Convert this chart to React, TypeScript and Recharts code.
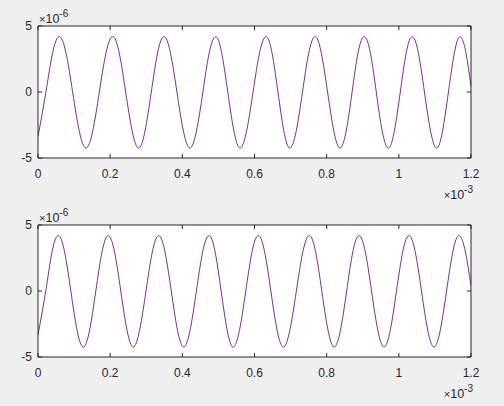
import React from "react";
import { LineChart, Line, XAxis, YAxis } from "recharts";

const xTicks = [0, 0.2, 0.4, 0.6, 0.8, 1, 1.2];
const xTickLabels = ["0", "0.2", "0.4", "0.6", "0.8", "1", "1.2"];
const yTicks = [-5, 0, 5];
const yTickLabels = ["-5", "0", "5"];
const xExponent = "-3";
const yExponent = "-6";

// top subplot (t in 1e-3, v in 1e-6)
const topT = [0, 0.022, 0.0405, 0.059, 0.0775, 0.096, 0.1145, 0.133, 0.1515, 0.17, 0.1885, 0.207, 0.225, 0.243, 0.261, 0.279, 0.2965, 0.314, 0.3315, 0.349, 0.367, 0.385, 0.403, 0.421, 0.439, 0.457, 0.4745, 0.4925, 0.509, 0.526, 0.543, 0.56, 0.578, 0.596, 0.614, 0.632, 0.6485, 0.665, 0.6815, 0.698, 0.7155, 0.733, 0.7505, 0.768, 0.785, 0.8025, 0.82, 0.837, 0.854, 0.8705, 0.887, 0.904, 0.921, 0.9375, 0.954, 0.971, 0.9875, 1.004, 1.0205, 1.037, 1.054, 1.071, 1.088, 1.105, 1.121, 1.1375, 1.154, 1.17, 1.186, 1.2];
const topV = [-3.39, 0, 2.97, 4.2,
  2.97, 0, -2.97, -4.25, -2.97, 0, 2.97, 4.2,
  2.97, 0, -2.97, -4.25, -2.97, 0, 2.97, 4.2,
  2.97, 0, -2.97, -4.25, -2.97, 0, 2.97, 4.2,
  2.97, 0, -2.97, -4.25, -2.97, 0, 2.97, 4.2,
  2.97, 0, -2.97, -4.25, -2.97, 0, 2.97, 4.2,
  2.97, 0, -2.97, -4.25, -2.97, 0, 2.97, 4.2,
  2.97, 0, -2.97, -4.25, -2.97, 0, 2.97, 4.2,
  2.97, 0, -2.97, -4.25, -2.97, 0, 2.97, 4.2,
  2.97, 0.4];

// bottom subplot
const botT = [0, 0.0215, 0.039, 0.0563, 0.0736, 0.091, 0.1083, 0.1256, 0.143, 0.1602, 0.1775, 0.1948, 0.2121, 0.2294, 0.2467, 0.264, 0.2816, 0.2993, 0.3169, 0.3345, 0.3519, 0.3693, 0.3866, 0.404, 0.4215, 0.439, 0.4565, 0.474, 0.4908, 0.5075, 0.5243, 0.541, 0.5584, 0.5758, 0.5932, 0.6106, 0.628, 0.6453, 0.6627, 0.68, 0.698, 0.716, 0.734, 0.752, 0.7693, 0.7865, 0.8038, 0.821, 0.8382, 0.8554, 0.8725, 0.8897, 0.907, 0.9244, 0.9417, 0.959, 0.9763, 0.9935, 1.0108, 1.028, 1.0454, 1.0628, 1.0801, 1.0975, 1.1149, 1.1323, 1.1496, 1.167, 1.1844, 1.2];
const botV = [-3.34, 0, 2.97, 4.2,
  2.97, 0, -2.97, -4.25, -2.97, 0, 2.97, 4.2,
  2.97, 0, -2.97, -4.25, -2.97, 0, 2.97, 4.2,
  2.97, 0, -2.97, -4.25, -2.97, 0, 2.97, 4.2,
  2.97, 0, -2.97, -4.25, -2.97, 0, 2.97, 4.2,
  2.97, 0, -2.97, -4.25, -2.97, 0, 2.97, 4.2,
  2.97, 0, -2.97, -4.25, -2.97, 0, 2.97, 4.2,
  2.97, 0, -2.97, -4.25, -2.97, 0, 2.97, 4.2,
  2.97, 0, -2.97, -4.25, -2.97, 0, 2.97, 4.2,
  2.97, 0.4];

const topData = topT.map((t, i) => ({ t, v: topV[i] }));
const botData = botT.map((t, i) => ({ t, v: botV[i] }));

const AX = "#262626";
const FONT = "'Liberation Sans', Arial, sans-serif";
const LINE = "#7E2F8E";

const BottomTick = (p: any) => {
  const i = xTicks.indexOf(p.payload.value);
  return (
    <g>
      <line x1={p.x} y1={p.y} x2={p.x} y2={p.y - 4} stroke={AX} strokeWidth={1} />
      <text x={p.x} y={p.y + 20} textAnchor="middle" fontSize={12} fill={AX} fontFamily={FONT}>
        {xTickLabels[i >= 0 ? i : 0]}
      </text>
    </g>
  );
};
const TopTick = (p: any) => (
  <line x1={p.x} y1={p.y} x2={p.x} y2={p.y + 4} stroke={AX} strokeWidth={1} />
);
const LeftTick = (p: any) => {
  const i = yTicks.indexOf(p.payload.value);
  return (
    <g>
      <line x1={p.x} y1={p.y} x2={p.x + 4} y2={p.y} stroke={AX} strokeWidth={1} />
      <text x={p.x - 6} y={p.y + 4} textAnchor="end" fontSize={12} fill={AX} fontFamily={FONT}>
        {yTickLabels[i >= 0 ? i : 0]}
      </text>
    </g>
  );
};
const RightTick = (p: any) => (
  <line x1={p.x} y1={p.y} x2={p.x - 4} y2={p.y} stroke={AX} strokeWidth={1} />
);

// plotTop / plotBottom are the pixel rows of the plot box inside the sub-chart
function SubPlot({ data, height, plotTop, plotBottom }: { data: any[]; height: number; plotTop: number; plotBottom: number }) {
  const left = 38;
  const right = 471;
  return (
    <div style={{ position: "relative", width: 504, height }}>
      <div style={{ position: "absolute", left, top: plotTop, width: right - left, height: plotBottom - plotTop, background: "#ffffff" }} />
      <div style={{ position: "absolute", left: 0, top: 0 }}>
        <LineChart width={504} height={height} data={data}
          margin={{ top: plotTop - 1, right: 504 - right - 1, bottom: height - plotBottom - 1, left: left - 1 }}
          style={{ overflow: "visible" }}>
          <XAxis xAxisId="b" dataKey="t" type="number" domain={[0, 1.2]} ticks={xTicks} interval={0}
            height={1} tickSize={0} tickMargin={0} tickLine={false} axisLine={{ stroke: AX }} tick={<BottomTick />} allowDataOverflow />
          <XAxis xAxisId="t" orientation="top" dataKey="t" type="number" domain={[0, 1.2]} ticks={xTicks} interval={0}
            height={1} tickSize={0} tickMargin={0} tickLine={false} axisLine={{ stroke: AX }} tick={<TopTick />} allowDataOverflow />
          <YAxis yAxisId="l" type="number" domain={[-5, 5]} ticks={yTicks} interval={0}
            width={1} tickSize={0} tickMargin={0} tickLine={false} axisLine={{ stroke: AX }} tick={<LeftTick />} allowDataOverflow />
          <YAxis yAxisId="r" orientation="right" type="number" domain={[-5, 5]} ticks={yTicks} interval={0}
            width={1} tickSize={0} tickMargin={0} tickLine={false} axisLine={{ stroke: AX }} tick={<RightTick />} allowDataOverflow />
          <Line xAxisId="b" yAxisId="l" type="natural" dataKey="v" stroke={LINE} strokeWidth={1} dot={false} activeDot={false} isAnimationActive={false} />
        </LineChart>
      </div>
    </div>
  );
}

const Exp = ({ x, y, anchor, exp }: { x: number; y: number; anchor: "start" | "end"; exp: string }) => (
  <text x={x} y={y} textAnchor={anchor} fontSize={12.5} fill={AX} fontFamily={FONT}>
    <tspan fontSize={11}>×</tspan>
    <tspan>10</tspan>
    <tspan dy={-6} fontSize={10}>{exp}</tspan>
  </text>
);

export default function App() {
  return (
    <div style={{ position: "fixed", left: 0, top: 0, width: 504, height: 406, background: "#f0f0f0", overflow: "hidden" }}>
      <div style={{ position: "absolute", left: 0, top: 0 }}>
        <SubPlot data={topData} height={200} plotTop={26} plotBottom={158} />
      </div>
      <div style={{ position: "absolute", left: 0, top: 200 }}>
        <SubPlot data={botData} height={206} plotTop={25} plotBottom={157} />
      </div>
      <svg width={504} height={406} style={{ position: "absolute", left: 0, top: 0, pointerEvents: "none" }}>
        <Exp x={39} y={23} anchor="start" exp={yExponent} />
        <Exp x={39} y={222} anchor="start" exp={yExponent} />
        <Exp x={473} y={199} anchor="end" exp={xExponent} />
        <Exp x={473} y={398} anchor="end" exp={xExponent} />
      </svg>
    </div>
  );
}
